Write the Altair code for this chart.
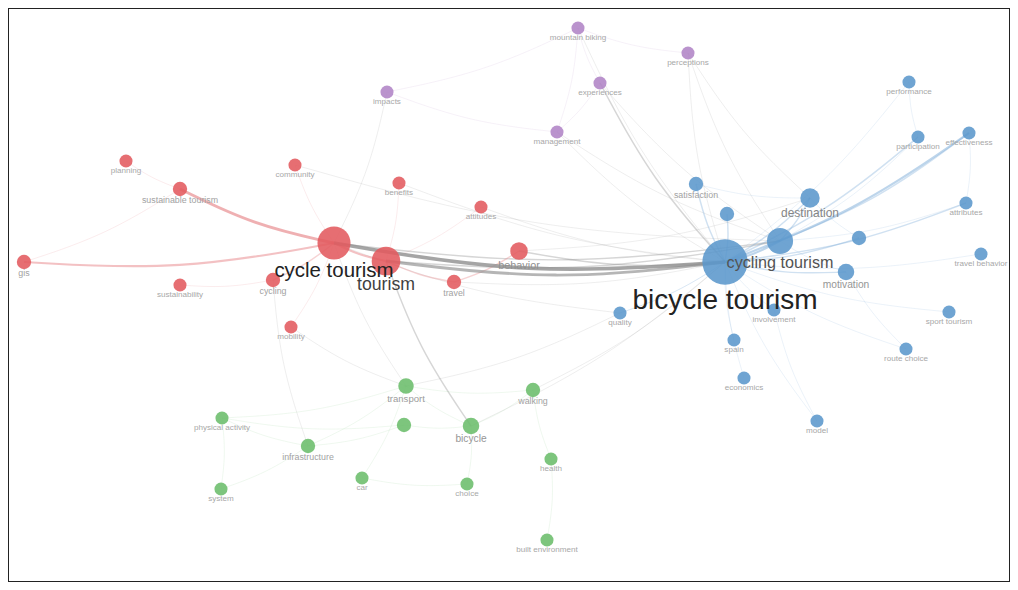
import math
import altair as alt
import pandas as pd

node_names = [
    "planning", "sustainable tourism", "gis", "sustainability", "cycle tourism", "cycling",
    "tourism", "community", "benefits", "attitudes", "behavior", "travel", "mobility",
    "mountain biking", "perceptions", "impacts", "experiences", "management",
    "bicycle tourism", "cycling tourism", "destination", "motivation", "satisfaction",
    "b1", "b2", "performance", "participation", "effectiveness", "attributes",
    "travel behavior", "sport tourism", "route choice", "model", "economics", "spain",
    "involvement", "quality",
    "transport", "walking", "physical activity", "infrastructure", "active travel",
    "bicycle", "health", "car", "choice", "system", "built environment",
]
node_labels = [
    "planning", "sustainable tourism", "gis", "sustainability", "cycle tourism", "cycling",
    "tourism", "community", "benefits", "attitudes", "behavior", "travel", "mobility",
    "mountain biking", "perceptions", "impacts", "experiences", "management",
    "bicycle tourism", "cycling tourism", "destination", "motivation", "satisfaction",
    "", "", "performance", "participation", "effectiveness", "attributes",
    "travel behavior", "sport tourism", "route choice", "model", "economics", "spain",
    "involvement", "quality",
    "transport", "walking", "physical activity", "infrastructure", "",
    "bicycle", "health", "car", "choice", "system", "built environment",
]
node_x = [126, 180, 24, 180, 334, 273, 386, 295, 399, 481, 519, 454, 291,
          578, 688, 387, 600, 557,
          725, 780, 810, 846, 696, 727, 859, 909, 918, 969, 966, 981, 949, 906, 817, 744, 734, 774, 620,
          406, 533, 222, 308, 404, 471, 551, 362, 467, 221, 547]
node_y = [161, 189, 262, 285, 243, 280, 261, 165, 183, 207, 251, 282, 327,
          28, 53, 92, 83, 132,
          262, 241, 198, 272, 184, 214, 238, 82, 137, 133, 203, 254, 312, 349, 421, 378, 340, 310, 313,
          386, 390, 418, 446, 425, 426, 459, 478, 484, 489, 540]
node_weight = [5, 6, 6, 5, 32, 6, 24, 5, 5, 5, 9, 6, 5,
               5, 5, 5, 5, 5,
               60, 20, 11, 8, 6, 6, 6, 5, 5, 5, 5, 5, 5, 5, 5, 5, 5, 5, 5,
               7, 6, 5, 6, 6, 8, 5, 5, 5, 5, 5]
node_cluster = (["red"] * 13 + ["purple"] * 5 + ["blue"] * 19 + ["green"] * 11)

# ---- links ----
edge_src = [
    "cycle tourism", "tourism", "cycle tourism", "tourism", "sustainable tourism", "gis",
    "gis", "planning", "cycle tourism", "community", "tourism", "tourism", "travel",
    "cycling", "sustainability", "mobility", "tourism", "behavior", "behavior", "travel",
    "tourism", "cycle tourism", "infrastructure", "mobility", "experiences", "experiences",
    "mountain biking", "perceptions", "perceptions", "perceptions", "management", "management",
    "experiences", "management", "experiences", "impacts", "impacts", "mountain biking",
    "impacts", "attitudes", "benefits", "community", "cycle tourism", "quality", "walking",
    "bicycle", "transport",
    "bicycle tourism", "bicycle tourism", "bicycle tourism", "satisfaction", "b1",
    "bicycle tourism", "bicycle tourism", "bicycle tourism", "bicycle tourism", "bicycle tourism",
    "bicycle tourism", "bicycle tourism", "bicycle tourism", "bicycle tourism", "spain",
    "bicycle tourism", "quality", "bicycle tourism", "cycling tourism", "cycling tourism",
    "cycling tourism", "cycling tourism", "cycling tourism", "satisfaction", "destination",
    "motivation", "model", "attributes", "participation",
    "transport", "transport", "physical activity", "infrastructure", "physical activity",
    "infrastructure", "active travel", "choice", "walking", "bicycle", "car", "system",
    "car", "built environment", "physical activity", "system",
]
edge_dst = [
    "bicycle tourism", "bicycle tourism", "cycling tourism", "cycling tourism", "cycle tourism",
    "cycle tourism", "sustainable tourism", "sustainable tourism", "tourism", "cycle tourism",
    "benefits", "travel", "behavior", "cycle tourism", "cycling", "cycle tourism", "attitudes",
    "bicycle tourism", "destination", "bicycle tourism", "bicycle", "transport", "cycling",
    "transport", "bicycle tourism", "cycling tourism", "bicycle tourism", "bicycle tourism",
    "cycling tourism", "destination", "bicycle tourism", "cycling tourism", "mountain biking",
    "mountain biking", "management", "management", "mountain biking", "perceptions",
    "cycle tourism", "bicycle tourism", "bicycle tourism", "cycling tourism", "quality",
    "bicycle tourism", "bicycle tourism", "bicycle tourism", "quality",
    "cycling tourism", "destination", "motivation", "bicycle tourism", "bicycle tourism",
    "b2", "participation", "effectiveness", "attributes", "travel behavior",
    "sport tourism", "route choice", "model", "economics", "bicycle tourism",
    "involvement", "bicycle tourism", "performance", "destination", "participation",
    "effectiveness", "attributes", "motivation", "destination", "b2",
    "route choice", "involvement", "effectiveness", "performance",
    "walking", "bicycle", "transport", "transport", "active travel",
    "active travel", "bicycle", "bicycle", "health", "walking", "transport", "infrastructure",
    "choice", "health", "infrastructure", "physical activity",
]
edge_weight = [
    5, 4, 2, 2, 4, 3, 1, 1, 3, 1, 1, 2, 2, 2, 1, 1, 1, 2, 1, 1, 2, 1, 1, 1, 2, 1,
    1, 1, 1, 1, 1, 1, 1, 1, 1, 1, 1, 1, 1, 1, 1, 1, 1, 1, 1, 1, 1,
    3, 2, 2, 2, 2, 2, 2, 3, 2, 1, 1, 1, 1, 1, 1, 1, 1, 1, 2, 1, 2, 1, 1, 1, 1,
    1, 1, 1, 1,
    1, 1, 1, 1, 1, 1, 1, 1, 1, 1, 1, 1, 1, 1, 1, 1,
]

cluster_names = ["red", "blue", "green", "purple", "cross"]
node_colors = ["#e35a5e", "#5b97cc", "#6bbd6b", "#b184c6"]
edge_colors = ["#e7868a", "#7eacd8", "#95cf95", "#c4a2d4", "#8e8e8e"]

# ---- tables ----
nodes = pd.DataFrame({"name": node_names, "label": node_labels, "x": node_x, "y": node_y,
                      "w": node_weight, "cluster": node_cluster})
nodes["r"] = 3.3 * nodes["w"].pow(0.5)
nodes["ly"] = nodes["y"] + nodes["r"] - 1
pos = {n: (x, y) for n, x, y in zip(node_names, node_x, node_y)}
clu = dict(zip(node_names, node_cluster))

rows = []
for i, (a, b, w) in enumerate(zip(edge_src, edge_dst, edge_weight)):
    (x1, y1), (x2, y2) = pos[a], pos[b]
    if x2 < x1:
        (x1, y1), (x2, y2) = (x2, y2), (x1, y1)
    dx, dy = x2 - x1, y2 - y1
    k = 0.06
    cx, cy = (x1 + x2) / 2 - dy * k, (y1 + y2) / 2 + dx * k
    grp = clu[a] if clu[a] == clu[b] else "cross"
    for o, (px, py) in enumerate([(x1, y1), (cx, cy), (x2, y2)]):
        rows.append({"edge": i, "o": o, "x": px, "y": py, "w": w, "grp": grp})
edges = pd.DataFrame(rows).sort_values(["w", "edge", "o"])

xs = alt.Scale(domain=[8, 1010], range=[0, 1002])
ys = alt.Scale(domain=[8, 582], range=[0, 574])

lines = alt.Chart(edges).mark_line(interpolate="basis").encode(
    x=alt.X("x:Q", scale=xs, axis=None),
    y=alt.Y("y:Q", scale=ys, axis=None),
    detail="edge:N",
    order="o:Q",
    color=alt.Color("grp:N", scale=alt.Scale(domain=cluster_names, range=edge_colors), legend=None),
    size=alt.Size("w:Q", scale=alt.Scale(domain=[1, 5], range=[0.7, 3.6]), legend=None),
    opacity=alt.Opacity("w:Q", scale=alt.Scale(domain=[1, 5], range=[0.22, 0.8]), legend=None),
)

circles = alt.Chart(nodes).mark_circle(opacity=0.88).encode(
    x=alt.X("x:Q", scale=xs, axis=None),
    y=alt.Y("y:Q", scale=ys, axis=None),
    size=alt.Size("w:Q", scale=alt.Scale(domain=[0, 60], range=[0, 2052]), legend=None),
    color=alt.Color("cluster:N", scale=alt.Scale(domain=cluster_names[:4], range=node_colors), legend=None),
)

labels = alt.Chart(nodes).transform_filter("datum.label != ''").mark_text(
    baseline="top", align="center", font="Liberation Sans"
).encode(
    x=alt.X("x:Q", scale=xs, axis=None),
    y=alt.Y("ly:Q", scale=ys, axis=None),
    text="label:N",
    size=alt.Size("w:Q", scale=alt.Scale(type="sqrt", domain=[0, 60], range=[0, 28]), legend=None),
    color=alt.Color("w:Q", scale=alt.Scale(domain=[5, 30], range=["#a8a8a8", "#222222"], clamp=True),
                    legend=None),
)

chart = (lines + circles + labels).resolve_scale(size="independent", color="independent", opacity="independent").properties(
    width=1002, height=574, autosize="none", padding=0
).configure_view(stroke="#222222", strokeWidth=2)

chart.save("out.html", embed_options={"renderer": "svg", "actions": False})
